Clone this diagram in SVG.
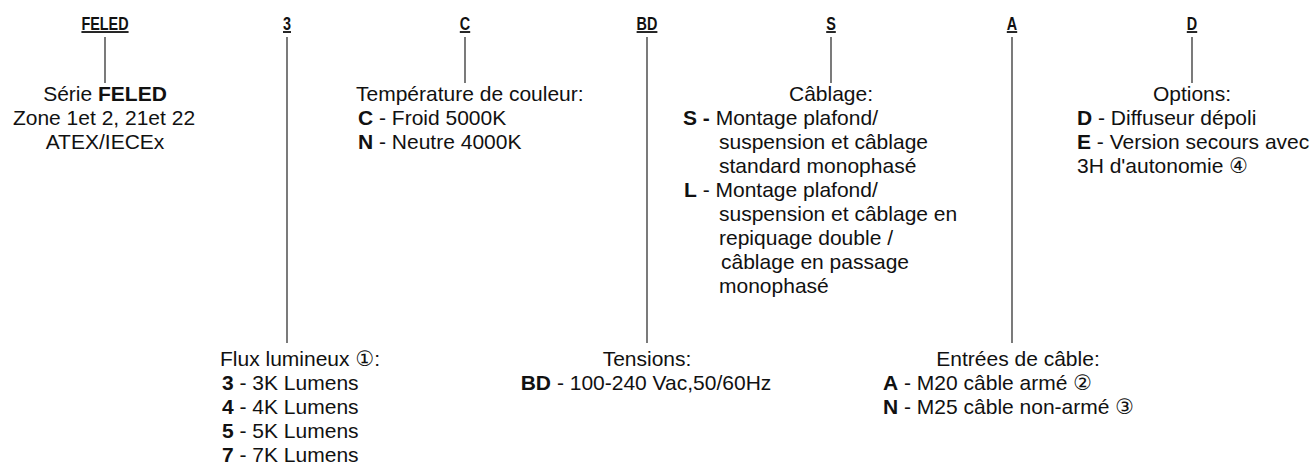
<svg xmlns="http://www.w3.org/2000/svg" width="1315" height="464" viewBox="0 0 1315 464">
<style>
.h{font-family:"Liberation Sans",Arial,sans-serif;font-weight:bold;font-size:18px;fill:#111;text-decoration:underline;text-anchor:middle;}
.t{font-family:"Liberation Sans",Arial,"DejaVu Sans",sans-serif;font-size:21px;fill:#111;}
.b{font-weight:bold;}
.c{text-anchor:middle;}
.ln{stroke:#333;stroke-width:1.3;fill:none;}
</style>
<rect width="1315" height="464" fill="#fff"/>
<g id="connectors">
<line class="ln" x1="105" y1="37" x2="105" y2="83"/>
<line class="ln" x1="287" y1="37" x2="287" y2="343"/>
<line class="ln" x1="465" y1="37" x2="465" y2="83"/>
<line class="ln" x1="647" y1="37" x2="647" y2="343"/>
<line class="ln" x1="831" y1="37" x2="831" y2="83"/>
<line class="ln" x1="1012" y1="37" x2="1012" y2="343"/>
<line class="ln" x1="1192" y1="37" x2="1192" y2="83"/>
</g>
<g id="headers">
<text class="h" transform="translate(105,30) scale(0.8,1)">FELED</text>
<text class="h" transform="translate(287,30) scale(0.8,1)">3</text>
<text class="h" transform="translate(465,30) scale(0.8,1)">C</text>
<text class="h" transform="translate(647,30) scale(0.8,1)">BD</text>
<text class="h" transform="translate(831,30) scale(0.8,1)">S</text>
<text class="h" transform="translate(1012,30) scale(0.8,1)">A</text>
<text class="h" transform="translate(1192,30) scale(0.8,1)">D</text>
</g>
<g id="serie">
<text class="t c" x="105" y="101">Série <tspan class="b">FELED</tspan></text>
<text class="t c" x="104" y="125">Zone 1et 2, 21et 22</text>
<text class="t c" x="105" y="149">ATEX/IECEx</text>
</g>
<g id="flux">
<text class="t" x="220" y="366">Flux lumineux ①:</text>
<text class="t" x="222" y="390"><tspan class="b">3</tspan> - 3K Lumens</text>
<text class="t" x="222" y="414"><tspan class="b">4</tspan> - 4K Lumens</text>
<text class="t" x="222" y="438"><tspan class="b">5</tspan> - 5K Lumens</text>
<text class="t" x="222" y="462"><tspan class="b">7</tspan> - 7K Lumens</text>
</g>
<g id="temperature">
<text class="t" x="356" y="101">Température de couleur:</text>
<text class="t" x="358" y="125"><tspan class="b">C</tspan> - Froid 5000K</text>
<text class="t" x="358" y="149"><tspan class="b">N</tspan> - Neutre 4000K</text>
</g>
<g id="tensions">
<text class="t c" x="647" y="366">Tensions:</text>
<text class="t c" x="646" y="390"><tspan class="b">BD</tspan> - 100-240 Vac,50/60Hz</text>
</g>
<g id="cablage">
<text class="t c" x="831" y="101">Câblage:</text>
<text class="t" x="683" y="125"><tspan class="b">S -</tspan> Montage plafond/</text>
<text class="t" x="719" y="149">suspension et câblage</text>
<text class="t" x="719" y="173">standard monophasé</text>
<text class="t" x="684" y="197"><tspan class="b">L</tspan> - Montage plafond/</text>
<text class="t" x="719" y="221">suspension et câblage en</text>
<text class="t" x="719" y="245">repiquage double /</text>
<text class="t" x="721" y="269">câblage en passage</text>
<text class="t" x="719" y="293">monophasé</text>
</g>
<g id="entrees">
<text class="t c" x="1018" y="366">Entrées de câble:</text>
<text class="t" x="883" y="390"><tspan class="b">A</tspan> - M20 câble armé ②</text>
<text class="t" x="883" y="414"><tspan class="b">N</tspan> - M25 câble non-armé ③</text>
</g>
<g id="options">
<text class="t c" x="1192" y="101">Options:</text>
<text class="t" x="1077" y="125"><tspan class="b">D</tspan> - Diffuseur dépoli</text>
<text class="t" x="1077" y="149"><tspan class="b">E</tspan> - Version secours avec</text>
<text class="t" x="1077" y="173">3H d'autonomie ④</text>
</g>
</svg>
